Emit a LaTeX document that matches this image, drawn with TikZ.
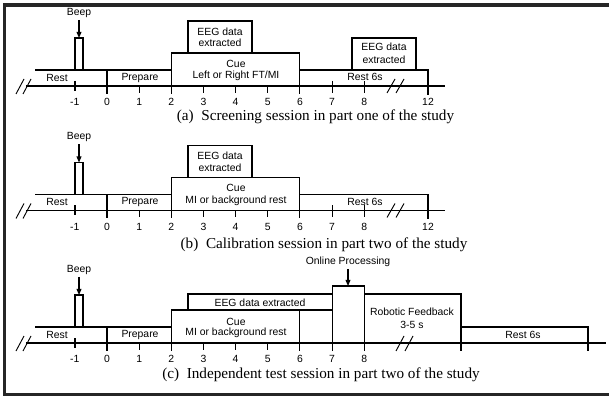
\documentclass[tikz,border=0pt]{standalone}
\usepackage{fontspec}
\setmainfont{Liberation Serif}
\newfontfamily\arialf{Liberation Sans}
\usetikzlibrary{arrows.meta}
\begin{document}
\begin{tikzpicture}[x=0.75pt,y=-0.75pt,line width=0.8pt,
  lbl/.style={font=\arialf\fontsize{7.8}{8.5}\selectfont,inner sep=0pt},
  captext/.style={font=\fontsize{11.4}{13}\selectfont,inner sep=0pt},
  frameline/.style={line width=2.3pt,draw=black!85},
  arr/.style={-{Triangle[length=4.5pt,width=3.6pt]}},
  slash/.style={line width=0.7pt}]
\useasboundingbox (0,0) rectangle (609,398);
% frame
\draw[frameline] (3,5) -- (609,5);
\draw[frameline] (4.5,3.9) -- (4.5,395.6);
\draw[frameline] (3,394.5) -- (609,394.5);

% common left part, drawn for each panel
\foreach \sh/\p in {0/a,124.5/b,257/c}{
\begin{scope}[shift={(0,\sh)}]
  \draw[slash] (16,94) -- (24,79);
  \draw[slash] (23,94) -- (31,79);
  \draw (35,70) -- (171,70);
  \draw (107,70) -- (107,94);
  \draw (75,70) -- (75,38) -- (83,38) -- (83,70);
  \draw (75,81) -- (75,91);
  \foreach \x in {139.15,203.45,235.6,267.75} \draw (\x,86) -- (\x,93);
  \draw (171.3,53) -- (171.3,94);
  \draw (299.9,53) -- (299.9,94);
  \node[lbl] (beep\p) at (79,13) {Beep};
  \coordinate (beeptop\p) at (79,20);
  \coordinate (beepbox\p) at (79,38);
  \draw[arr] (beeptop\p) -- (beepbox\p);
  \node[lbl] (rest\p) at (57,77.5) {Rest};
  \node[lbl] (prep\p) at (140,78) {Prepare};
  \foreach \t/\x in {-1/74.85,0/107,1/139.15,2/171.3,3/203.45,4/235.6,5/267.75,6/299.9,7/332.05,8/364.2}
    \node[lbl] at (\x,102) {\t};
\end{scope}}

% panel a and b right part
\foreach \sh/\p in {0/a,124.5/b}{
\begin{scope}[shift={(0,\sh)}]
  \draw (26,86) -- (445,86);
  \draw (171.3,53) -- (299.9,53);
  \draw (188,53) -- (188,21) -- (252,21) -- (252,53);
  \node[lbl] (eeg\p) at (220,31.5) {EEG data};
  \node[lbl] at (220,43) {extracted};
  \node[lbl] (cue\p) at (236,63.5) {Cue};
  \draw (299.9,70) -- (428,70) -- (428,95);
  \draw (332.05,81) -- (332.05,93);
  \draw (364.2,81) -- (364.2,93);
  \draw[slash] (387,93) -- (395,79);
  \draw[slash] (396,93) -- (404,79);
  \node[lbl] (rs\p) at (365,77) {Rest 6s};
  \node[lbl] at (428,102) {12};
\end{scope}}
\node[lbl] at (236,76) {Left or Right FT/MI};
\node[lbl] at (236,124.5+76) {MI or background rest};
% panel a extra EEG box
\draw (352,70) -- (352,38) -- (416,38) -- (416,70);
\node[lbl] (eeg2a) at (384,47) {EEG data};
\node[lbl] at (384,60) {extracted};

% panel c right part
\begin{scope}[shift={(0,257)}]
  \draw (26,86) -- (606,86);
  \draw (171.3,53) -- (332.05,53);
  \draw (188,53) -- (188,37) -- (332.05,37);
  \node[lbl] (eegc) at (260,45.7) {EEG data extracted};
  \node[lbl] (cuec) at (236,64.7) {Cue};
  \node[lbl] at (236,76) {MI or background rest};
  \draw (332.05,94) -- (332.05,29) -- (364.2,29) -- (364.2,94);
  \node[lbl] (online) at (348,5) {Online Processing};
  \coordinate (onlinetop) at (348,12);
  \coordinate (onlinebox) at (348,29);
  \draw[arr] (onlinetop) -- (onlinebox);
  \draw (364.2,37) -- (461,37) -- (461,94);
  \node[lbl] (robot) at (412,55) {Robotic Feedback};
  \node[lbl] at (412,68) {3-5 s};
  \draw[slash] (396,94) -- (404,79);
  \draw[slash] (405,94) -- (413,79);
  \draw (461,70) -- (588,70) -- (588,94);
  \node[lbl] (rsc) at (523,78) {Rest 6s};
\end{scope}

% captions
\node[captext] (capa) at (315.5,117) {(a)\ \ Screening session in part one of the study};
\node[captext] (capb) at (324,245) {(b)\ \ Calibration session in part two of the study};
\node[captext] (capc) at (321,375) {(c)\ \ Independent test session in part two of the study};
\end{tikzpicture}
\end{document}
